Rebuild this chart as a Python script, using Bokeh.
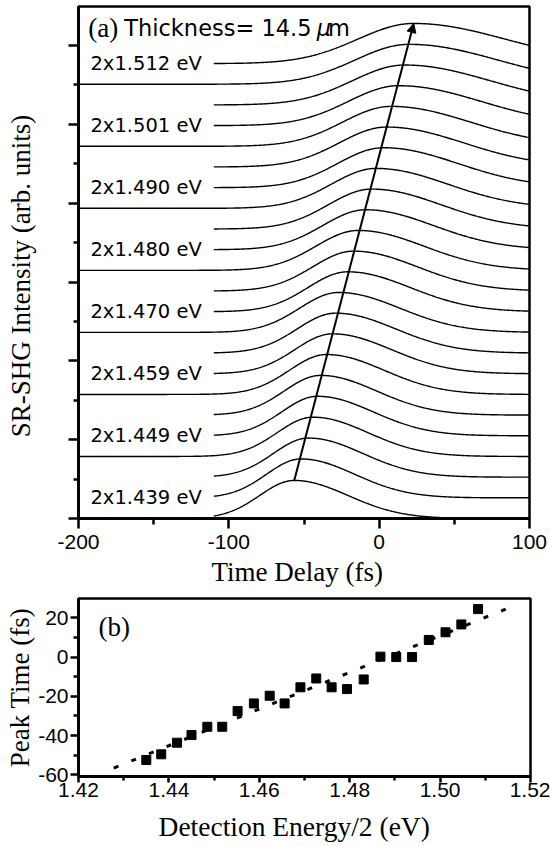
import numpy as np
from bokeh.plotting import figure
from bokeh.layouts import column
from bokeh.models import (FixedTicker, Label, Arrow, NormalHead, PrintfTickFormatter,
                          CustomJSTickFormatter, Range1d)
from bokeh.core.properties import value
from bokeh.embed import file_html
from bokeh.resources import INLINE

# ---------------- data: panel (a) ----------------
# one trace per detection energy, offset by one unit each (bottom = index 0)
trace_peak_fs = [-56.5, -52, -47, -44, -41, -39, -35, -31, -29, -27, -21, -17,
                 -14, -9, -5, -2, 3, 5, 8, 13, 17, 20, 23]
trace_amp = [1.84, 1.88, 1.89, 1.90, 1.91, 1.92, 1.93, 1.93, 1.93, 1.93, 1.93, 1.93,
             1.93, 1.93, 1.93, 1.93, 1.93, 1.93, 1.93, 1.93, 1.93, 1.93, 1.94]
trace_left_w = [27, 27, 27.5, 28, 28, 28.5, 29, 29.5, 30, 30.5, 31, 32,
                33, 33.5, 34, 35, 36, 37, 38, 39.5, 41, 42.5, 44]
trace_right_w = [42, 42, 42.5, 43, 43.5, 44, 45, 46, 47, 48, 49, 50,
                 51.5, 53, 54.5, 56, 58, 60, 62, 64.5, 67, 69.5, 72]
trace_start_fs = [-110, -110, -110, -200, -110, -110, -200, -110, -110, -200, -110, -110,
                  -200, -110, -110, -200, -110, -110, -200, -110, -110, -200, -110]
label_trace = [1, 4, 7, 10, 13, 16, 19, 22]
label_energy = ["1.439", "1.449", "1.459", "1.470", "1.480", "1.490", "1.501", "1.512"]
a_xticks = [-200, -100, 0, 100]
a_xminor = [-150, -50, 50]
a_yticks = [0, 3.812, 7.624, 11.436, 15.248, 19.06, 22.872]
a_yminor = [1.906, 5.718, 9.53, 13.342, 17.154, 20.966]

# ---------------- data: panel (b) ----------------
det_energy = [1.4350, 1.4383, 1.4418, 1.4450, 1.4485, 1.4518, 1.4552, 1.4588, 1.4623,
              1.4656, 1.4691, 1.4726, 1.4760, 1.4794, 1.4831, 1.4868, 1.4903, 1.4938,
              1.4975, 1.5012, 1.5047, 1.5084]
peak_time = [-52.4, -49.5, -43.6, -39.7, -35.5, -35.5, -27.5, -23.6, -19.7,
             -23.6, -15.4, -10.9, -15.4, -16.3, -11.4, 0.2, 0.0, 0.0,
             8.7, 12.6, 16.6, 24.4]
fit_energy = [1.4278, 1.5156]
fit_time = [-56.5, 25.4]
b_xticks = [1.42, 1.44, 1.46, 1.48, 1.50, 1.52]
b_xminor = [1.43, 1.45, 1.47, 1.49, 1.51]
b_yticks = [-60, -40, -20, 0, 20]
b_yminor = [-50, -30, -10, 10]

SERIF = "Liberation Serif"
SANS = "Liberation Sans"
NB = "\u00a0"


def style_axis(ax, ticks, minor, tick_out, minor_out):
    ax.ticker = FixedTicker(ticks=ticks, minor_ticks=minor)
    ax.axis_line_width = 3
    ax.axis_line_color = "black"
    ax.major_tick_line_width = 2.5
    ax.minor_tick_line_width = 2.5
    ax.major_tick_in = 0
    ax.minor_tick_in = 0
    ax.major_tick_out = tick_out
    ax.minor_tick_out = minor_out
    ax.major_label_text_font = SANS
    ax.major_label_text_font_size = "21px"
    ax.major_label_text_color = "black"
    ax.axis_label_text_font = SERIF
    ax.axis_label_text_font_style = "normal"
    ax.axis_label_text_font_size = "27px"
    ax.axis_label_text_color = "black"


def pulse(t, tp, a, wl, wr):
    w = np.where(t < tp, wl, wr)
    return a * np.exp(-np.log(2) * ((t - tp) / w) ** 2)


# ---------------- panel (a) ----------------
pa = figure(frame_width=451, frame_height=512,
            x_range=Range1d(-200, 100), y_range=Range1d(0, 24.76),
            output_backend="svg", toolbar_location=None,
            min_border_left=77, min_border_right=22, min_border_top=6, min_border_bottom=74)
pa.grid.visible = False
pa.outline_line_color = "black"
pa.outline_line_width = 2.5
pa.background_fill_color = "white"
pa.border_fill_color = "white"

for k in range(len(trace_peak_fs)):
    t = np.linspace(trace_start_fs[k], 100, 400)
    y = k + pulse(t, trace_peak_fs[k], trace_amp[k], trace_left_w[k], trace_right_w[k])
    pa.line(t, y, line_color="black", line_width=1.4)

pa.text(x=[-118] * len(label_trace), y=label_trace,
        text=["2x%s eV" % e for e in label_energy],
        text_align="right", text_baseline="middle",
        text_font=value("DejaVu Sans"), text_font_size="19.5px", text_color="black")

pa.add_layout(Arrow(end=NormalHead(size=9, line_width=1, fill_color="black"),
                    x_start=trace_peak_fs[0], y_start=0 + trace_amp[0],
                    x_end=trace_peak_fs[-1], y_end=len(trace_peak_fs) - 1 + trace_amp[-1],
                    line_width=2, line_color="black"))

pa.add_layout(Label(x=-193.5, y=23.7, text="(a)", text_font=SERIF, text_font_size="27px",
                    text_baseline="middle", text_align="left", text_color="black"))
pa.add_layout(Label(x=-45, y=23.7, text="Thickness= 14.5", text_font="DejaVu Sans",
                    text_font_size="22.5px", text_baseline="middle", text_align="right",
                    text_color="black"))
pa.add_layout(Label(x=-41.5, y=23.7, text="\u03bc", text_font="DejaVu Sans",
                    text_font_style="italic",
                    text_font_size="22.5px", text_baseline="middle", text_align="left",
                    text_color="black"))
pa.add_layout(Label(x=-34, y=23.7, text="m", text_font="DejaVu Sans",
                    text_font_size="22.5px", text_baseline="middle", text_align="left",
                    text_color="black"))

style_axis(pa.xaxis[0], a_xticks, a_xminor, 10, 6)
style_axis(pa.yaxis[0], a_yticks, a_yminor, 10, 5)
pa.xaxis.formatter = PrintfTickFormatter(format="%d")
pa.xaxis.major_label_standoff = 6
pa.xaxis.axis_label = "Time Delay (fs)" + NB * 2
pa.xaxis.axis_label_standoff = 5
pa.yaxis.formatter = CustomJSTickFormatter(code="return ''")
pa.yaxis.major_label_text_color = None
pa.yaxis.major_label_standoff = 0
pa.yaxis.axis_label = "SR-SHG Intensity (arb. units)" + NB * 4
pa.yaxis.axis_label_standoff = 33

# ---------------- panel (b) ----------------
pb = figure(frame_width=452, frame_height=178,
            x_range=Range1d(1.42, 1.52), y_range=Range1d(-60.8, 29.8),
            output_backend="svg", toolbar_location=None,
            min_border_left=78, min_border_right=20, min_border_top=6, min_border_bottom=69)
pb.grid.visible = False
pb.outline_line_color = "black"
pb.outline_line_width = 2.5
pb.background_fill_color = "white"
pb.border_fill_color = "white"

pb.line(fit_energy, fit_time, line_color="black", line_width=3, line_dash="5 14")
pb.scatter(det_energy, peak_time, marker="square", size=9, fill_color="black",
           line_color="black")

pb.add_layout(Label(x=1.4244, y=15.3, text="(b)", text_font=SERIF, text_font_size="27px",
                    text_baseline="middle", text_align="left", text_color="black"))

style_axis(pb.xaxis[0], b_xticks, b_xminor, 6, 4)
style_axis(pb.yaxis[0], b_yticks, b_yminor, 8, 5)
pb.xaxis.formatter = PrintfTickFormatter(format="%.2f")
pb.yaxis.formatter = PrintfTickFormatter(format="%d")
pb.xaxis.major_label_standoff = 0
pb.xaxis.axis_label = "Detection Energy/2 (eV)" + NB * 3
pb.xaxis.axis_label_text_font_size = "27.5px"
pb.xaxis.axis_label_standoff = 11
pb.yaxis.major_label_standoff = 2
pb.yaxis.axis_label = "Peak Time (fs)"
pb.yaxis.axis_label_standoff = 0

layout = column(pa, pb, spacing=0)
open("out.html", "w").write(file_html(layout, INLINE))
